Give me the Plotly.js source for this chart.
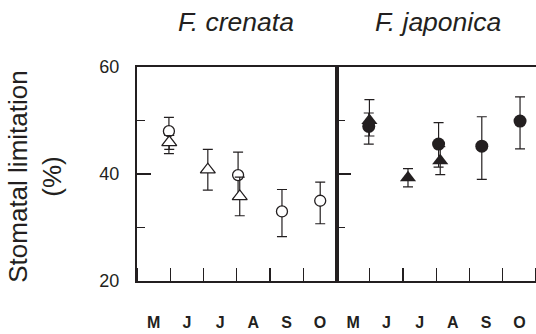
<!DOCTYPE html>
<html>
<head>
<meta charset="utf-8">
<script src="https://cdn.plot.ly/plotly-3.0.1.min.js"></script>
<style>html,body{margin:0;padding:0;background:#fff}#chart{width:536px;height:334px}</style>
</head>
<body>
<div id="chart"></div>
<script>
// Month labels (one per month interval) and their positions in month units
var months = ["M", "J", "J", "A", "S", "O"];
var monthCenters = [0.5, 1.5, 2.5, 3.5, 4.5, 5.5];
var panelTitles = ["F. crenata", "F. japonica"];
var yTicks = [20, 40, 60];

// F. crenata – circles
var crenCircX = [0.96, 3.04, 4.36, 5.51];
var crenCircY = [48.0, 39.8, 33.0, 35.0];
var crenCircErrUp = [2.6, 4.3, 4.1, 3.5];
var crenCircErrDn = [4.2, 4.3, 4.7, 4.3];
// F. crenata – triangles
var crenTriX = [0.97, 2.13, 3.09];
var crenTriY = [45.9, 40.8, 35.8];
var crenTriErrUp = [1.3, 3.8, 3.6];
var crenTriErrDn = [1.3, 3.8, 3.6];

// F. japonica – circles
var japCircX = [0.97, 3.07, 4.37, 5.52];
var japCircY = [48.9, 45.6, 45.2, 49.9];
var japCircErrUp = [2.5, 4.0, 5.5, 4.5];
var japCircErrDn = [3.3, 4.3, 6.2, 5.2];
// F. japonica – triangles
var japTriX = [0.99, 2.15, 3.12];
var japTriY = [50.0, 39.3, 42.5];
var japTriErrUp = [3.9, 1.7, 2.6];
var japTriErrDn = [2.9, 1.7, 2.6];

var FONT = "Liberation Sans, Arial, Helvetica, sans-serif";
var INK = "#231f20";

function errY(up, dn) {
  return {type: "data", symmetric: false, array: up, arrayminus: dn,
          color: INK, thickness: 1.2, width: 5};
}
function trace(x, y, up, dn, symbol, filled, size, xa, ya) {
  return {
    x: x, y: y, xaxis: xa, yaxis: ya, type: "scatter", mode: "markers",
    error_y: errY(up, dn),
    marker: {symbol: symbol, size: size, color: filled ? INK : "#ffffff",
             line: {color: INK, width: filled ? 0 : 1.3}},
    showlegend: false, hoverinfo: "skip"
  };
}

var data = [
  trace(crenCircX, crenCircY, crenCircErrUp, crenCircErrDn, "circle", false, 11, "x", "y"),
  trace(crenTriX, crenTriY, crenTriErrUp, crenTriErrDn, "triangle-up", false, 13, "x", "y"),
  trace(japCircX, japCircY, japCircErrUp, japCircErrDn, "circle", true, 13, "x2", "y2"),
  trace(japTriX, japTriY, japTriErrUp, japTriErrDn, "triangle-up", true, 14, "x2", "y2")
];

function xAxis(domain, anchor) {
  return {
    domain: domain, anchor: anchor, range: [0, 6], fixedrange: true,
    showline: true, mirror: true, linecolor: INK, linewidth: 2,
    showgrid: false, zeroline: false,
    tickmode: "array", tickvals: monthCenters, ticktext: months,
    ticks: "", ticklabelstandoff: 26,
    tickfont: {family: FONT, size: 16, color: INK, weight: "bold"},
    minor: {ticks: "inside", tickmode: "linear", tick0: 0, dtick: 1,
            ticklen: 13, tickwidth: 1.4, tickcolor: INK, showgrid: false}
  };
}
function yAxis(anchor, labels, mirror) {
  return {
    anchor: anchor, range: [20, 60], fixedrange: true,
    showline: true, mirror: mirror, linecolor: INK, linewidth: 2,
    showgrid: false, zeroline: false,
    tickmode: "array", tickvals: yTicks, ticks: "inside", ticklen: 14,
    tickwidth: 1.4, tickcolor: INK,
    showticklabels: labels, ticklabelstandoff: 12,
    tickfont: {family: FONT, size: 18, color: INK},
    minor: {ticks: "inside", tickmode: "linear", tick0: 0, dtick: 10,
            ticklen: 8, tickwidth: 1.4, tickcolor: INK, showgrid: false}
  };
}

var layout = {
  width: 536, height: 334,
  margin: {l: 137, r: 0, t: 67, b: 52.5, pad: 0},
  paper_bgcolor: "#ffffff", plot_bgcolor: "#ffffff",
  font: {family: FONT, color: INK},
  xaxis: xAxis([0, 0.5], "y"),
  xaxis2: xAxis([0.5, 1], "y2"),
  yaxis: yAxis("x", true, true),
  yaxis2: yAxis("x2", false, false),
  annotations: [
    {text: panelTitles[0], xref: "paper", yref: "paper", x: 0.249, y: 1.212,
     xanchor: "center", yanchor: "middle", showarrow: false,
     font: {family: FONT, size: 26.5, style: "italic", color: INK}},
    {text: panelTitles[1], xref: "paper", yref: "paper", x: 0.7556, y: 1.212,
     xanchor: "center", yanchor: "middle", showarrow: false,
     font: {family: FONT, size: 26.5, style: "italic", color: INK}},
    {text: "Stomatal limitation<br>(%)", xref: "paper", yref: "paper",
     x: (35 - 137) / 399, y: (281.5 - 177) / 214.5, textangle: -90,
     xanchor: "center", yanchor: "middle", showarrow: false, align: "center",
     font: {family: FONT, size: 26, color: INK}}
  ]
};

Plotly.newPlot("chart", data, layout, {staticPlot: true, displayModeBar: false});
</script>
</body>
</html>
